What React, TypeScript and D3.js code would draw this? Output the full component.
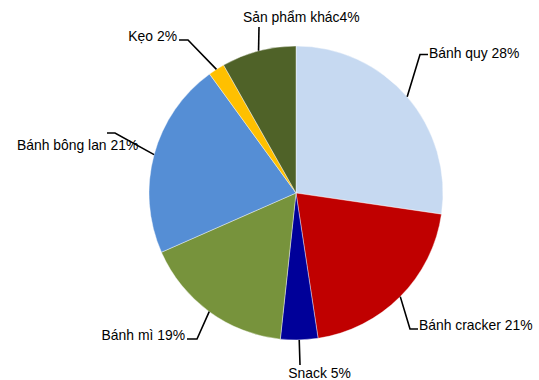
import React from "react";
import * as d3 from "d3";

const categories = ["Bánh quy", "Bánh cracker", "Snack", "Bánh mì", "Bánh bông lan", "Kẹo", "Sản phẩm khác"];
const sliceValues = [27.3, 20.3, 4.1, 16.7, 21.6, 1.8, 8.2];
const percentLabels = ["28%", "21%", "5%", "19%", "21%", "2%", "4%"];
const colors = ["#C6D9F1", "#C00000", "#000099", "#77933C", "#558ED5", "#FFC000", "#4F6228"];

// label layout: text position & leader elbow/end points
const labelLayout = [
  { x: 429, y: 58, anchor: "start", sep: " ", pts: [[420, 54.5], [428, 54.5]] },
  { x: 419, y: 330, anchor: "start", sep: " ", pts: [[410, 329], [418, 329]] },
  { x: 319.5, y: 378, anchor: "middle", sep: " ", pts: [[300, 365]] },
  { x: 185, y: 340, anchor: "end", sep: " ", pts: [[197, 339], [187, 339]] },
  { x: 17, y: 150, anchor: "start", sep: " ", pts: [[115, 133], [107, 133]] },
  { x: 177, y: 41, anchor: "end", sep: " ", pts: [[188, 40], [179, 40]] },
  { x: 243, y: 22, anchor: "start", sep: "", pts: [[259, 27]] },
];

const W = 539, H = 380;
const cx = 296, cy = 193, R = 147;

export default function App() {
  const pie = d3.pie<number>().sort(null).value((d) => d)(sliceValues);
  const arc = d3.arc<d3.PieArcDatum<number>>().innerRadius(0).outerRadius(R);
  const line = d3.line();
  return (
    <svg width={W} height={H} style={{ position: "absolute", left: 0, top: 0, background: "#fff" }}
      fontFamily="'Liberation Sans', Arial, sans-serif" fontSize={13.9}>
      <g transform={`translate(${cx},${cy})`}>
        {pie.map((p, i) => (
          <path key={i} d={arc(p) || ""} fill={colors[i]} stroke="#fff" strokeWidth={0.4} />
        ))}
      </g>
      {pie.map((p, i) => {
        const mid = (p.startAngle + p.endAngle) / 2;
        const start: [number, number] = [cx + R * Math.sin(mid), cy - R * Math.cos(mid)];
        const L = labelLayout[i];
        const pts = [start, ...(L.pts as [number, number][])];
        return (
          <g key={i}>
            <path d={line(pts) || ""} fill="none" stroke="#000" strokeWidth={1.6} />
            <text x={L.x} y={L.y} textAnchor={L.anchor as any} fill="#000">
              {categories[i] + L.sep + percentLabels[i]}
            </text>
          </g>
        );
      })}
    </svg>
  );
}
